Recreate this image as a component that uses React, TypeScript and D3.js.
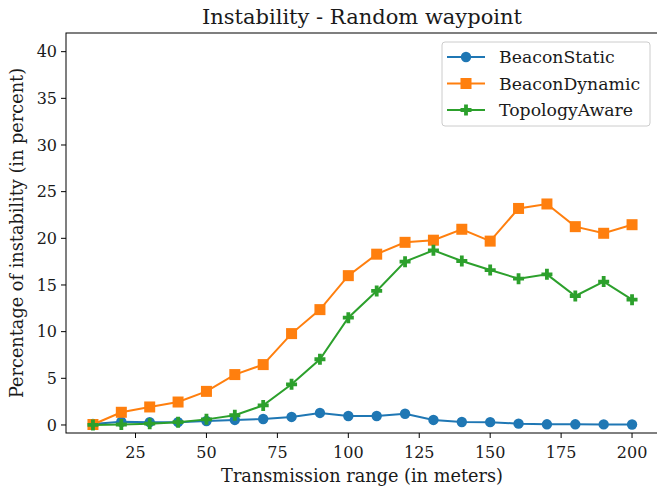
import React from "react";
import * as d3 from "d3";

const ranges = [10, 20, 30, 40, 50, 60, 70, 80, 90, 100, 110, 120, 130, 140, 150, 160, 170, 180, 190, 200];
const beaconStatic = [0.1, 0.35, 0.3, 0.3, 0.43, 0.54, 0.64, 0.86, 1.29, 0.96, 0.96, 1.2, 0.54, 0.32, 0.3, 0.14, 0.07, 0.07, 0.06, 0.05];
const beaconDynamic = [0.05, 1.36, 1.93, 2.46, 3.6, 5.4, 6.47, 9.79, 12.36, 16.0, 18.3, 19.57, 19.8, 20.97, 19.7, 23.2, 23.68, 21.25, 20.54, 21.46];
const topologyAware = [0.0, 0.05, 0.14, 0.3, 0.6, 1.04, 2.1, 4.36, 7.04, 11.5, 14.36, 17.5, 18.71, 17.57, 16.6, 15.68, 16.14, 13.82, 15.36, 13.43];
const xTicks = [25, 50, 75, 100, 125, 150, 175, 200];
const yTicks = [0, 5, 10, 15, 20, 25, 30, 35, 40];

const series = [
  { name: "BeaconStatic", values: beaconStatic, color: "#1f77b4", marker: "circle" },
  { name: "BeaconDynamic", values: beaconDynamic, color: "#ff7f0e", marker: "square" },
  { name: "TopologyAware", values: topologyAware, color: "#2ca02c", marker: "plus" },
];

const W = 657;
const H = 488;
const left = 66;
const right = 659;
const top = 33;
const bottom = 433;
const font = "'DejaVu Serif', serif";

function Marker({ kind, x, y, color }: { kind: string; x: number; y: number; color: string }) {
  if (kind === "circle") return <circle cx={x} cy={y} r={5.2} fill={color} />;
  if (kind === "square") return <rect x={x - 5.5} y={y - 5.5} width={11} height={11} fill={color} />;
  const a = 5.5, b = 1.9;
  const p = `M${x - b},${y - a}H${x + b}V${y - b}H${x + a}V${y + b}H${x + b}V${y + a}H${x - b}V${y + b}H${x - a}V${y - b}H${x - b}Z`;
  return <path d={p} fill={color} />;
}

export default function App() {
  const x = d3.scaleLinear().domain([0.5, 209.5]).range([left, right]);
  const y = d3.scaleLinear().domain([-0.86, 42]).range([bottom, top]);
  const line = d3
    .line<number>()
    .x((_d, i) => x(ranges[i]))
    .y((d) => y(d));

  return (
    <svg width={W} height={H} style={{ position: "absolute", left: 0, top: 0, background: "#fff" }} fontFamily={font}>
      <rect x={0} y={0} width={W} height={H} fill="#fff" />
      {series.map((s) => (
        <g key={s.name}>
          <path d={line(s.values) || ""} fill="none" stroke={s.color} strokeWidth={2} />
          {s.values.map((v, i) => (
            <Marker key={i} kind={s.marker} x={x(ranges[i])} y={y(v)} color={s.color} />
          ))}
        </g>
      ))}
      {/* axes frame */}
      <rect x={left} y={top} width={right - left} height={bottom - top} fill="none" stroke="#000" strokeWidth={1} />
      {xTicks.map((t) => (
        <g key={t} transform={`translate(${x(t)},${bottom})`}>
          <line y2={5} stroke="#000" />
          <text y={25} textAnchor="middle" fontSize={16} fill="#1a1a1a">{t}</text>
        </g>
      ))}
      {yTicks.map((t) => (
        <g key={t} transform={`translate(${left},${y(t)})`}>
          <line x2={-5} stroke="#000" />
          <text x={-9} dy="0.35em" textAnchor="end" fontSize={16} fill="#1a1a1a">{t}</text>
        </g>
      ))}
      <text x={362} y={24} textAnchor="middle" fontSize={21} fill="#1a1a1a">Instability - Random waypoint</text>
      <text x={362} y={482} textAnchor="middle" fontSize={17.7} fill="#1a1a1a">Transmission range (in meters)</text>
      <text transform={`translate(23,${(top + bottom) / 2}) rotate(-90)`} textAnchor="middle" fontSize={17.7} fill="#1a1a1a">
        Percentage of instability (in percent)
      </text>
      {/* legend */}
      <rect x={442} y={42} width={208} height={84} rx={3} fill="#fff" fillOpacity={0.8} stroke="#ccc" />
      {series.map((s, i) => {
        const ly = 57 + i * 26.5;
        return (
          <g key={s.name}>
            <line x1={447} x2={485} y1={ly} y2={ly} stroke={s.color} strokeWidth={2} />
            <Marker kind={s.marker} x={466} y={ly} color={s.color} />
            <text x={499} y={ly} dy="0.35em" fontSize={17.3} fill="#1a1a1a">{s.name}</text>
          </g>
        );
      })}
    </svg>
  );
}
